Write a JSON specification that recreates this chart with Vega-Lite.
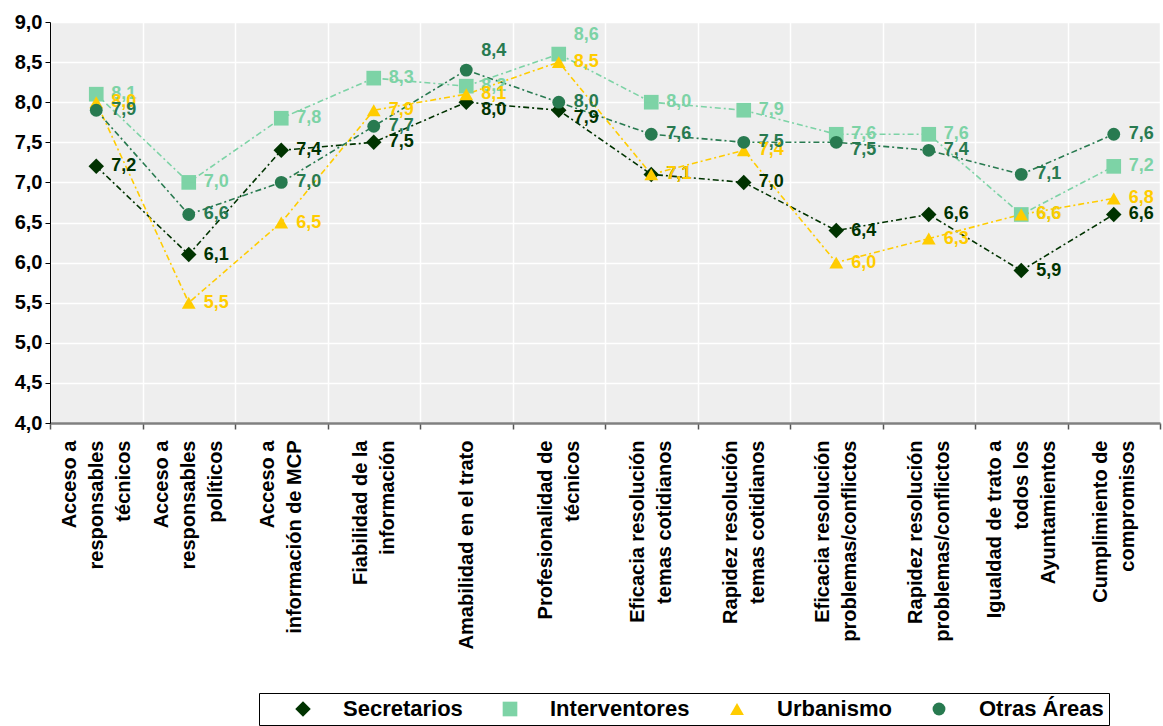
{
  "$schema": "https://vega.github.io/schema/vega-lite/v6.json",
  "autosize": {"type": "none"},
  "padding": {"left": 50, "top": 22, "right": 3, "bottom": 303},
  "width": 1110,
  "height": 401,
  "config": {
    "locale": {"number": {"decimal": ",", "thousands": ".", "grouping": [3], "currency": ["", " €"]}},
    "view": {"fill": "#EEEEEE", "stroke": null},
    "font": "Liberation Sans"
  },
  "data": {
    "values": [
      {"c": "Acceso a|responsables|técnicos", "s": "Secretarios", "v": 7.2},
      {"c": "Acceso a|responsables|políticos", "s": "Secretarios", "v": 6.1},
      {"c": "Acceso a|información de MCP", "s": "Secretarios", "v": 7.4},
      {"c": "Fiabilidad de la|información", "s": "Secretarios", "v": 7.5},
      {"c": "Amabilidad en el trato", "s": "Secretarios", "v": 8.0},
      {"c": "Profesionalidad de|técnicos", "s": "Secretarios", "v": 7.9},
      {"c": "Eficacia resolución|temas cotidianos", "s": "Secretarios", "v": 7.1},
      {"c": "Rapidez resolución|temas cotidianos", "s": "Secretarios", "v": 7.0},
      {"c": "Eficacia resolución|problemas/conflictos", "s": "Secretarios", "v": 6.4},
      {"c": "Rapidez resolución|problemas/conflictos", "s": "Secretarios", "v": 6.6},
      {"c": "Igualdad de trato a|todos los|Ayuntamientos", "s": "Secretarios", "v": 5.9},
      {"c": "Cumplimiento de|compromisos", "s": "Secretarios", "v": 6.6},
      {"c": "Acceso a|responsables|técnicos", "s": "Interventores", "v": 8.1},
      {"c": "Acceso a|responsables|políticos", "s": "Interventores", "v": 7.0},
      {"c": "Acceso a|información de MCP", "s": "Interventores", "v": 7.8},
      {"c": "Fiabilidad de la|información", "s": "Interventores", "v": 8.3},
      {"c": "Amabilidad en el trato", "s": "Interventores", "v": 8.2},
      {"c": "Profesionalidad de|técnicos", "s": "Interventores", "v": 8.6},
      {"c": "Eficacia resolución|temas cotidianos", "s": "Interventores", "v": 8.0},
      {"c": "Rapidez resolución|temas cotidianos", "s": "Interventores", "v": 7.9},
      {"c": "Eficacia resolución|problemas/conflictos", "s": "Interventores", "v": 7.6},
      {"c": "Rapidez resolución|problemas/conflictos", "s": "Interventores", "v": 7.6},
      {"c": "Igualdad de trato a|todos los|Ayuntamientos", "s": "Interventores", "v": 6.6},
      {"c": "Cumplimiento de|compromisos", "s": "Interventores", "v": 7.2},
      {"c": "Acceso a|responsables|técnicos", "s": "Urbanismo", "v": 8.0},
      {"c": "Acceso a|responsables|políticos", "s": "Urbanismo", "v": 5.5},
      {"c": "Acceso a|información de MCP", "s": "Urbanismo", "v": 6.5},
      {"c": "Fiabilidad de la|información", "s": "Urbanismo", "v": 7.9},
      {"c": "Amabilidad en el trato", "s": "Urbanismo", "v": 8.1},
      {"c": "Profesionalidad de|técnicos", "s": "Urbanismo", "v": 8.5},
      {"c": "Eficacia resolución|temas cotidianos", "s": "Urbanismo", "v": 7.1},
      {"c": "Rapidez resolución|temas cotidianos", "s": "Urbanismo", "v": 7.4},
      {"c": "Eficacia resolución|problemas/conflictos", "s": "Urbanismo", "v": 6.0},
      {"c": "Rapidez resolución|problemas/conflictos", "s": "Urbanismo", "v": 6.3},
      {"c": "Igualdad de trato a|todos los|Ayuntamientos", "s": "Urbanismo", "v": 6.6},
      {"c": "Cumplimiento de|compromisos", "s": "Urbanismo", "v": 6.8},
      {"c": "Acceso a|responsables|técnicos", "s": "Otras Áreas", "v": 7.9},
      {"c": "Acceso a|responsables|políticos", "s": "Otras Áreas", "v": 6.6},
      {"c": "Acceso a|información de MCP", "s": "Otras Áreas", "v": 7.0},
      {"c": "Fiabilidad de la|información", "s": "Otras Áreas", "v": 7.7},
      {"c": "Amabilidad en el trato", "s": "Otras Áreas", "v": 8.4},
      {"c": "Profesionalidad de|técnicos", "s": "Otras Áreas", "v": 8.0},
      {"c": "Eficacia resolución|temas cotidianos", "s": "Otras Áreas", "v": 7.6},
      {"c": "Rapidez resolución|temas cotidianos", "s": "Otras Áreas", "v": 7.5},
      {"c": "Eficacia resolución|problemas/conflictos", "s": "Otras Áreas", "v": 7.5},
      {"c": "Rapidez resolución|problemas/conflictos", "s": "Otras Áreas", "v": 7.4},
      {"c": "Igualdad de trato a|todos los|Ayuntamientos", "s": "Otras Áreas", "v": 7.1},
      {"c": "Cumplimiento de|compromisos", "s": "Otras Áreas", "v": 7.6}
    ]
  },
  "encoding": {
    "x": {
      "field": "c", "type": "nominal", "sort": null,
      "scale": {"paddingInner": 0, "paddingOuter": 0},
      "axis": {
        "title": null, "labelAngle": 270, "labelAlign": "right", "labelBaseline": "middle",
        "labelExpr": "split(datum.label, '|')",
        "labelOffset": {"condition": [{"test": "length(split(datum.value, '|')) == 3", "value": -27}, {"test": "length(split(datum.value, '|')) == 2", "value": -13.5}], "value": 0},
        "labelFont": "Liberation Sans", "labelFontWeight": "bold", "labelFontSize": 20,
        "labelColor": "#000000", "labelLineHeight": 27, "labelLimit": 0, "labelPadding": 11,
        "tickBand": "extent", "tickSize": 6, "tickColor": "#555555", "tickWidth": 1.5,
        "domainColor": "#808080", "domainWidth": 2.5,
        "grid": true, "gridColor": "#FFFFFF", "gridWidth": 1.5
      }
    },
    "y": {
      "field": "v", "type": "quantitative",
      "scale": {"domain": [4, 9], "nice": false, "zero": false},
      "axis": {
        "title": null, "values": [4, 4.5, 5, 5.5, 6, 6.5, 7, 7.5, 8, 8.5, 9],
        "format": ".1f", "labelExpr": "replace(format(datum.value, '.1f'), '.', ',')",
        "labelFont": "Liberation Sans", "labelFontWeight": "bold", "labelFontSize": 20,
        "labelColor": "#000000", "labelPadding": 3,
        "tickSize": 5, "tickColor": "#000000", "domainColor": "#000000", "domainWidth": 1,
        "grid": true, "gridColor": "#FFFFFF", "gridWidth": 1.5
      }
    },
    "color": {
      "field": "s", "type": "nominal",
      "scale": {"domain": ["Secretarios", "Interventores", "Urbanismo", "Otras Áreas"], "range": ["#003300", "#7DD3A6", "#FFCC00", "#287A50"]}
    }
  },
  "layer": [
    {
      "mark": {"type": "line", "strokeWidth": 1.6, "strokeDash": [6, 3, 2, 3]},
      "encoding": {"detail": {"field": "s"}}
    },
    {
      "mark": {"type": "point", "filled": true, "opacity": 1, "strokeWidth": 0},
      "encoding": {
        "shape": {"field": "s", "type": "nominal", "scale": {"domain": ["Secretarios", "Interventores", "Urbanismo", "Otras Áreas"], "range": ["diamond", "square", "triangle-up", "circle"]}, "legend": null},
        "size": {"field": "s", "type": "nominal", "scale": {"domain": ["Secretarios", "Interventores", "Urbanismo", "Otras Áreas"], "range": [240, 165, 210, 180]}, "legend": null},
        "color": {
          "field": "s", "type": "nominal",
          "legend": {
            "title": null, "orient": "none", "legendX": 209, "legendY": 671, "direction": "horizontal",
            "labelFont": "Liberation Sans", "labelFontWeight": "bold", "labelFontSize": 22, "labelColor": "#000000",
            "symbolSize": 196, "symbolStrokeWidth": 0, "symbolOffset": 28, "labelOffset": 29, "columnPadding": 8,
            "padding": 5, "strokeColor": "#000000", "fillColor": "#FFFFFF",
            "encode": {
              "symbols": {
                "shape": {"value": {"expr": "(datum.value === 'Secretarios' ? 'M0,-1L1,0L0,1L-1,0Z ' : datum.value === 'Interventores' ? 'M-0.85,-0.85L0.85,-0.85L0.85,0.85L-0.85,0.85Z ' : datum.value === 'Urbanismo' ? 'M0,-1.05L1.05,0.8L-1.05,0.8Z ' : 'M-0.95,0A0.95,0.95,0,1,0,0.95,0A0.95,0.95,0,1,0,-0.95,0Z ') + 'M-4.6,-0.13L-3.9,-0.13L-3.9,0.13L-4.6,0.13Z M-3.4,-0.13L-2.7,-0.13L-2.7,0.13L-3.4,0.13Z M-2.2,-0.13L-1.5,-0.13L-1.5,0.13L-2.2,0.13Z M1.5,-0.13L2.2,-0.13L2.2,0.13L1.5,0.13Z M2.7,-0.13L3.4,-0.13L3.4,0.13L2.7,0.13Z M3.9,-0.13L4.6,-0.13L4.6,0.13L3.9,0.13Z'"}}
              }
            }
          }
        }
      }
    },
    {
      "transform": [{"filter": "!((datum.s === 'Otras Áreas' && datum.c === 'Amabilidad en el trato') || (datum.s === 'Interventores' && datum.c === 'Profesionalidad de|técnicos') || (datum.s === 'Secretarios' && (datum.c === 'Amabilidad en el trato' || datum.c === 'Profesionalidad de|técnicos')) || (datum.s === 'Otras Áreas' && datum.c === 'Eficacia resolución|problemas/conflictos'))"}],
      "mark": {"type": "text", "align": "left", "baseline": "middle", "dx": 15, "font": "Liberation Sans", "fontWeight": "bold", "fontSize": 18},
      "encoding": {"text": {"field": "v", "type": "quantitative", "format": ".1f"}}
    },
    {
      "transform": [{"filter": "(datum.s === 'Otras Áreas' && datum.c === 'Amabilidad en el trato') || (datum.s === 'Interventores' && datum.c === 'Profesionalidad de|técnicos')"}],
      "mark": {"type": "text", "align": "left", "baseline": "middle", "dx": 15, "dy": -19, "font": "Liberation Sans", "fontWeight": "bold", "fontSize": 18},
      "encoding": {"text": {"field": "v", "type": "quantitative", "format": ".1f"}}
    },
    {
      "transform": [{"filter": "(datum.s === 'Secretarios' && (datum.c === 'Amabilidad en el trato' || datum.c === 'Profesionalidad de|técnicos')) || (datum.s === 'Otras Áreas' && datum.c === 'Eficacia resolución|problemas/conflictos')"}],
      "mark": {"type": "text", "align": "left", "baseline": "middle", "dx": 15, "dy": 8, "font": "Liberation Sans", "fontWeight": "bold", "fontSize": 18},
      "encoding": {"text": {"field": "v", "type": "quantitative", "format": ".1f"}}
    }
  ]
}
